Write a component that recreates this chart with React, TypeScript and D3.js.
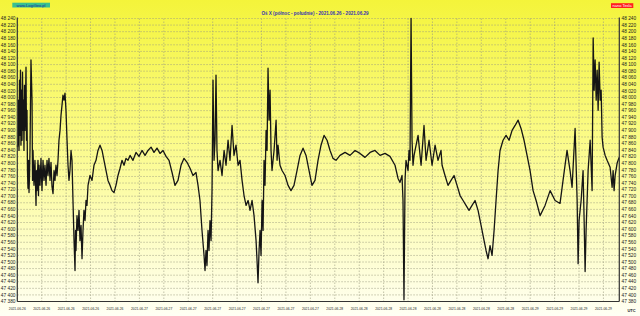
import React from 'react';
import * as d3 from 'd3';

// ---- data ----
const TITLE = 'Oś X (północ - południe) - 2021.06.26 - 2021.06.29';
const SITE = 'www.LogiGeo.pl';
const UNIT = 'nano Tesla';
const START_UTC = Date.UTC(2021, 5, 26, 9, 0);
const SPAN_HOURS = 73.95;
const TICK_STEP_HOURS = 3;
const xTickLabels = [
  '2021-06-26', '2021-06-26', '2021-06-26', '2021-06-26', '2021-06-26',
  '2021-06-27', '2021-06-27', '2021-06-27', '2021-06-27', '2021-06-27', '2021-06-27', '2021-06-27', '2021-06-27',
  '2021-06-28', '2021-06-28', '2021-06-28', '2021-06-28', '2021-06-28', '2021-06-28', '2021-06-28', '2021-06-28',
  '2021-06-29', '2021-06-29', '2021-06-29', '2021-06-29',
];
const Y_MIN = 47380;
const Y_MAX = 48240;
const Y_STEP = 20;

// [hours since start, nT]
const trace: [number, number][] = [
  [0.02, 47849], [0.09, 47870], [0.15, 47992], [0.21, 47839], [0.27, 48053], [0.33, 47885], [0.39, 48083],
  [0.45, 47855], [0.52, 48022], [0.58, 47870], [0.64, 48077], [0.70, 47900], [0.76, 47992], [0.82, 47839],
  [0.88, 48037], [0.95, 47900], [1.07, 48092], [1.13, 47870], [1.19, 47961], [1.25, 47778], [1.31, 47724],
  [1.38, 47809], [1.44, 47711], [1.50, 47763], [1.56, 47839], [1.68, 48114], [1.81, 47992], [1.87, 47748],
  [1.93, 47839], [2.05, 47733], [2.17, 47809], [2.30, 47672], [2.36, 47778], [2.42, 47717], [2.54, 47809],
  [2.60, 47702], [2.67, 47794], [2.79, 47733], [2.91, 47815], [3.03, 47717], [3.16, 47809], [3.28, 47748],
  [3.40, 47794], [3.53, 47733], [3.65, 47809], [3.77, 47763], [3.89, 47815], [4.02, 47748], [4.14, 47803],
  [4.26, 47730], [4.39, 47708], [4.51, 47778], [4.63, 47748], [4.75, 47794], [4.88, 47763], [5.00, 47809],
  [5.12, 47870], [5.25, 47900], [5.37, 47946], [5.49, 47976], [5.61, 48007], [5.74, 47992], [5.86, 48013],
  [5.98, 47961], [6.11, 47870], [6.23, 47794], [6.35, 47748], [6.47, 47778], [6.60, 47839], [6.72, 47809],
  [6.84, 47687], [6.97, 47565], [7.09, 47474], [7.15, 47596], [7.21, 47535], [7.33, 47641], [7.46, 47596],
  [7.58, 47657], [7.70, 47565], [7.83, 47611], [7.95, 47510], [8.07, 47596], [8.19, 47657], [8.32, 47626],
  [8.44, 47687], [8.56, 47672], [8.69, 47733],
  [8.93, 47763], [9.18, 47748], [9.42, 47794], [9.67, 47809], [9.91, 47839], [10.16, 47855], [10.41, 47839],
  [10.65, 47809], [10.90, 47778], [11.14, 47748], [11.39, 47733], [11.63, 47717], [11.88, 47711], [12.12, 47733],
  [12.37, 47763], [12.62, 47785], [12.86, 47809], [13.11, 47794], [13.35, 47815], [13.60, 47809], [13.85, 47824],
  [14.21, 47809], [14.58, 47833], [14.95, 47821], [15.32, 47839], [15.69, 47824], [16.06, 47839], [16.43, 47849],
  [16.79, 47833], [17.16, 47846], [17.53, 47830], [17.90, 47839], [18.27, 47821], [18.64, 47809], [19.01, 47772],
  [19.37, 47733], [19.74, 47748], [20.11, 47794], [20.48, 47815], [20.85, 47803], [21.22, 47785], [21.58, 47763],
  [21.95, 47772], [22.20, 47733], [22.44, 47687], [22.69, 47596], [22.94, 47520], [23.06, 47474], [23.18, 47535],
  [23.30, 47489], [23.43, 47596], [23.55, 47535], [23.67, 47626], [23.80, 47565], [23.92, 47717], [24.04, 48053],
  [24.17, 47809], [24.29, 47870], [24.41, 48068], [24.53, 47839], [24.66, 47778], [24.90, 47809], [25.15, 47763],
  [25.40, 47839], [25.64, 47794], [25.89, 47870], [26.13, 47809], [26.38, 47915], [26.62, 47824], [26.87, 47855],
  [27.12, 47794], [27.36, 47809], [27.61, 47748], [27.85, 47702], [28.10, 47672], [28.35, 47687], [28.59, 47657],
  [28.84, 47687], [29.08, 47641], [29.33, 47565], [29.45, 47504], [29.57, 47437], [29.70, 47535], [29.82, 47596],
  [29.94, 47520], [30.07, 47687], [30.19, 47596], [30.31, 47809], [30.43, 47733], [30.56, 47900], [30.68, 47839],
  [30.80, 48089], [30.93, 47931], [31.05, 48022], [31.17, 47839], [31.29, 47778], [31.54, 47839], [31.79, 47931],
  [31.91, 47809], [32.03, 47855], [32.27, 47794], [32.52, 47778], [32.89, 47763], [33.26, 47733], [33.62, 47717],
  [33.99, 47733], [34.36, 47778], [34.73, 47824], [35.10, 47846], [35.47, 47824], [35.84, 47778], [36.20, 47733],
  [36.57, 47748], [36.94, 47809], [37.31, 47855], [37.68, 47885], [38.05, 47870], [38.42, 47839], [38.78, 47815],
  [39.15, 47809], [39.64, 47824], [40.26, 47833], [40.87, 47824], [41.49, 47839], [42.10, 47830], [42.71, 47818],
  [43.33, 47833], [43.94, 47839], [44.56, 47824], [45.17, 47830], [45.78, 47821], [46.40, 47794], [46.77, 47754],
  [47.01, 47742], [47.26, 47763], [47.38, 47687], [47.50, 47385], [47.63, 47748], [47.75, 47809], [48.00, 47778],
  [48.12, 47839], [48.24, 47809], [48.37, 48240], [48.49, 47870], [48.61, 47794], [48.74, 47824], [48.86, 47839],
  [49.23, 47885], [49.60, 47794], [49.96, 47915], [50.21, 47809], [50.58, 47870], [50.95, 47794], [51.32, 47855],
  [51.68, 47809], [52.05, 47839], [52.18, 47794], [52.54, 47763], [52.91, 47733], [53.28, 47748], [53.65, 47763],
  [54.02, 47733], [54.39, 47702], [54.76, 47687], [55.12, 47672], [55.49, 47657], [55.86, 47672], [56.23, 47687],
  [56.60, 47657], [56.97, 47611], [57.34, 47565], [57.58, 47535], [57.83, 47510], [58.07, 47550], [58.32, 47520],
  [58.57, 47596], [58.81, 47687], [59.06, 47778], [59.30, 47839], [59.67, 47870], [60.04, 47885], [60.41, 47870],
  [60.78, 47900], [61.15, 47915], [61.52, 47931], [61.88, 47906], [62.25, 47870], [62.62, 47824], [62.99, 47778],
  [63.36, 47717], [63.73, 47687], [64.22, 47641], [64.83, 47672], [65.45, 47717], [66.06, 47687], [66.67, 47678],
  [67.04, 47748], [67.53, 47839], [67.90, 47778], [68.15, 47727], [68.52, 47906], [68.77, 47687], [68.89, 47495],
  [69.01, 47626], [69.26, 47687], [69.50, 47778], [69.63, 47626], [69.75, 47471], [69.87, 47596], [70.12, 47778],
  [70.37, 47870], [70.61, 47717], [70.74, 48181], [70.86, 48022], [70.98, 48114], [71.11, 47992], [71.23, 48083],
  [71.35, 47961], [71.47, 48107], [71.60, 47992], [71.72, 48022], [71.84, 47879], [71.96, 47849], [72.21, 47824],
  [72.45, 47809], [72.82, 47788], [73.07, 47727], [73.19, 47778], [73.31, 47717], [73.44, 47763], [73.68, 47800],
  [73.93, 47818],
];

// ---- layout ----
const W = 640;
const H = 316;
const PLOT = { left: 17.3, right: 619.3, top: 18.5, bottom: 301.5 };

export default function App() {
  const x = d3
    .scaleUtc()
    .domain([new Date(START_UTC), new Date(START_UTC + SPAN_HOURS * 3600e3)])
    .range([PLOT.left, PLOT.right]);
  const y = d3.scaleLinear().domain([Y_MIN, Y_MAX]).range([PLOT.bottom, PLOT.top]);

  const yTicks = d3.range(Y_MIN, Y_MAX + 1, Y_STEP);
  const xTicks = xTickLabels.map((label, i) => ({
    label,
    t: new Date(START_UTC + i * TICK_STEP_HOURS * 3600e3),
  }));
  const fmtY = (v: number) => `${Math.floor(v / 1000)} ${String(v % 1000).padStart(3, '0')}`;

  const line = d3
    .line<[number, number]>()
    .x((d) => x(new Date(START_UTC + d[0] * 3600e3)))
    .y((d) => y(Math.max(Y_MIN, Math.min(Y_MAX, d[1]))));

  const font = 'Liberation Sans, Arial, sans-serif';

  return (
    <svg
      width={W}
      height={H}
      viewBox={`0 0 ${W} ${H}`}
      style={{ position: 'fixed', left: 0, top: 0, display: 'block' }}
      fontFamily={font}
    >
      <defs>
        <linearGradient id="bg" x1="0" y1="0" x2="0" y2="1">
          <stop offset="0" stopColor="#f4f43a" />
          <stop offset="0.45" stopColor="#fbfb8a" />
          <stop offset="1" stopColor="#fffff4" />
        </linearGradient>
      </defs>
      <rect x={0} y={0} width={W} height={H} fill="url(#bg)" />

      {/* grid */}
      {yTicks.map((v) => (
        <line
          key={'gy' + v}
          x1={PLOT.left}
          x2={PLOT.right}
          y1={y(v)}
          y2={y(v)}
          stroke="#9a9a80"
          strokeWidth={0.6}
          strokeDasharray="1.5,1.5"
        />
      ))}
      {xTicks.map((d, i) => (
        <line
          key={'gx' + i}
          x1={x(d.t)}
          x2={x(d.t)}
          y1={PLOT.top}
          y2={PLOT.bottom}
          stroke="#9a9a80"
          strokeWidth={0.6}
          strokeDasharray="1.5,1.5"
        />
      ))}

      {/* data */}
      <path d={line(trace) || ''} fill="none" stroke="#151515" strokeWidth={1.3} strokeLinejoin="round" />

      {/* axes */}
      <line x1={PLOT.left} x2={PLOT.left} y1={PLOT.top - 1} y2={PLOT.bottom} stroke="#333" strokeWidth={1.2} />
      <line x1={PLOT.right} x2={PLOT.right} y1={PLOT.top - 1} y2={PLOT.bottom} stroke="#333" strokeWidth={1.2} />
      <line x1={PLOT.left} x2={PLOT.right} y1={PLOT.bottom} y2={PLOT.bottom} stroke="#333" strokeWidth={1.2} />

      {/* y labels */}
      {yTicks.map((v) => (
        <g key={'ly' + v}>
          <text x={15.5} y={y(v)} dy="0.35em" textAnchor="end" fontSize={4.8} fill="#222">
            {fmtY(v)}
          </text>
          <text x={621.5} y={y(v)} dy="0.35em" textAnchor="start" fontSize={4.8} fill="#222">
            {fmtY(v)}
          </text>
        </g>
      ))}

      {/* x labels */}
      {xTicks.map((d, i) => (
        <text key={'lx' + i} x={x(d.t)} y={310} textAnchor="middle" fontSize={3.3} fill="#222">
          {d.label}
        </text>
      ))}

      {/* header */}
      <rect x={12.3} y={2.7} width={37.7} height={4.8} fill="#38c090" />
      <text x={31} y={6.6} textAnchor="middle" fontSize={4} fill="#1a1aa0">
        {SITE}
      </text>
      <rect x={611} y={3.2} width={22.3} height={4.8} fill="#ff2020" />
      <text x={622.1} y={7.1} textAnchor="middle" fontSize={4} fill="#ffffff">
        {UNIT}
      </text>
      <text x={315} y={14.8} textAnchor="middle" fontSize={4.6} fontWeight="bold" fill="#3434b0">
        {TITLE}
      </text>
      <text x={631.5} y={311.5} textAnchor="middle" fontSize={4} fontWeight="bold" fill="#222">
        UTC
      </text>
    </svg>
  );
}
